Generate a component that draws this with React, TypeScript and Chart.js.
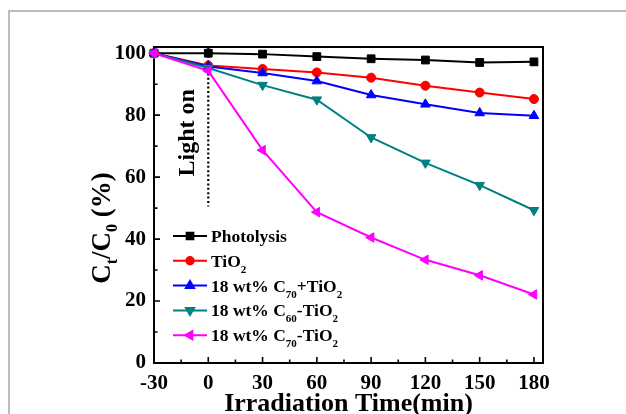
import { useEffect, useRef } from 'react';
import { Chart, registerables } from 'chart.js';
import { drawPoint } from 'chart.js/helpers';

Chart.register(...registerables);

// Irradiation times (min); -30 is the dark adsorption step before the lamp is switched on
const times = [-30, 0, 30, 60, 90, 120, 150, 180];

// Ct/C0 (%) for each sample
const photolysis = [100, 100, 99.7, 98.9, 98.2, 97.8, 97.0, 97.2];
const tio2 = [100, 96.0, 94.9, 93.8, 92.1, 89.5, 87.3, 85.2];
const c70PlusTio2 = [100, 95.7, 93.6, 91.0, 86.5, 83.5, 80.7, 79.8];
const c60Tio2 = [100, 95.2, 89.7, 85.0, 72.8, 64.6, 57.4, 49.3];
const c70Tio2 = [100, 94.3, 68.7, 48.7, 40.5, 33.3, 28.3, 22.1];

// Axis ticks
const xTickValues = [-30, 0, 30, 60, 90, 120, 150, 180];
const xMinorValues = [-15, 15, 45, 75, 105, 135, 165];
const yTickValues = [0, 20, 40, 60, 80, 100];
const yMinorValues = [10, 30, 50, 70, 90];

// "Light on" marker
const lightOnTime = 0;
const lightOnLow = 50.5;
const lightOnText = 'Light on';

const xTitle = 'Irradiation Time(min)';

type Seg = { t: string; sub?: boolean };

const FONT = "'Liberation Serif', 'Times New Roman', serif";

const series = [
  { label: [{ t: 'Photolysis' }] as Seg[], data: photolysis, color: '#000000', style: 'rect', radius: 5.5, rotation: 0 },
  { label: [{ t: 'TiO' }, { t: '2', sub: true }] as Seg[], data: tio2, color: '#ff0000', style: 'circle', radius: 4.5, rotation: 0 },
  { label: [{ t: '18 wt% C' }, { t: '70', sub: true }, { t: '+TiO' }, { t: '2', sub: true }] as Seg[], data: c70PlusTio2, color: '#0000ff', style: 'triangle', radius: 5.5, rotation: 0 },
  { label: [{ t: '18 wt% C' }, { t: '60', sub: true }, { t: '-TiO' }, { t: '2', sub: true }] as Seg[], data: c60Tio2, color: '#008080', style: 'triangle', radius: 5.5, rotation: 180 },
  { label: [{ t: '18 wt% C' }, { t: '70', sub: true }, { t: '-TiO' }, { t: '2', sub: true }] as Seg[], data: c70Tio2, color: '#ff00ff', style: 'triangle', radius: 5.5, rotation: 270 },
];

function drawSegs(ctx: CanvasRenderingContext2D, segs: Seg[], x: number, y: number, size: number, subSize: number, subDrop: number) {
  let cx = x;
  for (const s of segs) {
    ctx.font = `bold ${s.sub ? subSize : size}px ${FONT}`;
    ctx.fillText(s.t, cx, s.sub ? y + subDrop : y);
    cx += ctx.measureText(s.t).width;
  }
  return cx - x;
}

function segsWidth(ctx: CanvasRenderingContext2D, segs: Seg[], size: number, subSize: number) {
  let w = 0;
  for (const s of segs) {
    ctx.font = `bold ${s.sub ? subSize : size}px ${FONT}`;
    w += ctx.measureText(s.t).width;
  }
  return w;
}

const decorPlugin = {
  id: 'decor',
  beforeDraw(chart: any) {
    const { ctx, width, height } = chart;
    ctx.save();
    ctx.fillStyle = '#ffffff';
    ctx.fillRect(0, 0, width, height);
    ctx.strokeStyle = '#bdbdbd';
    ctx.lineWidth = 2;
    ctx.strokeRect(9, 11, width + 20, height + 20);
    ctx.restore();
  },
  beforeDatasetsDraw(chart: any) {
    const { ctx, chartArea: a } = chart;
    const xs = chart.scales.x;
    const ys = chart.scales.y;
    ctx.save();
    ctx.strokeStyle = '#000';
    ctx.lineWidth = 2;
    ctx.strokeRect(a.left, a.top, a.right - a.left, a.bottom - a.top);

    // inward tick marks on bottom and left axes
    ctx.lineWidth = 1.6;
    ctx.beginPath();
    for (const v of xTickValues) {
      const px = xs.getPixelForValue(v);
      ctx.moveTo(px, a.bottom);
      ctx.lineTo(px, a.bottom - 6);
    }
    for (const v of xMinorValues) {
      const px = xs.getPixelForValue(v);
      ctx.moveTo(px, a.bottom);
      ctx.lineTo(px, a.bottom - 3.5);
    }
    for (const v of yTickValues) {
      const py = ys.getPixelForValue(v);
      ctx.moveTo(a.left, py);
      ctx.lineTo(a.left + 6, py);
    }
    for (const v of yMinorValues) {
      const py = ys.getPixelForValue(v);
      ctx.moveTo(a.left, py);
      ctx.lineTo(a.left + 3.5, py);
    }
    ctx.stroke();

    // dotted "Light on" line
    const lx = xs.getPixelForValue(lightOnTime);
    ctx.setLineDash([2, 2.4]);
    ctx.lineWidth = 2.2;
    ctx.beginPath();
    ctx.moveTo(lx, a.top);
    ctx.lineTo(lx, ys.getPixelForValue(lightOnLow));
    ctx.stroke();
    ctx.setLineDash([]);

    ctx.translate(lx - 20, (a.top + ys.getPixelForValue(lightOnLow)) / 2 + 6);
    ctx.rotate(-Math.PI / 2);
    ctx.fillStyle = '#000';
    ctx.font = `bold 24px ${FONT}`;
    ctx.textAlign = 'center';
    ctx.textBaseline = 'middle';
    ctx.fillText(lightOnText, 0, 0);
    ctx.restore();
  },
  afterDraw(chart: any) {
    const { ctx, chartArea: a } = chart;
    ctx.save();
    ctx.fillStyle = '#000';
    ctx.textBaseline = 'alphabetic';
    ctx.textAlign = 'left';

    // legend
    const rowY0 = 236;
    const rowGap = 24.8;
    const lineX0 = a.left + 19;
    const lineX1 = a.left + 53;
    series.forEach((s, i) => {
      const y = rowY0 + i * rowGap;
      ctx.strokeStyle = s.color;
      ctx.lineWidth = 2;
      ctx.beginPath();
      ctx.moveTo(lineX0, y);
      ctx.lineTo(lineX1, y);
      ctx.stroke();
      ctx.fillStyle = s.color;
      drawPoint(ctx, { pointStyle: s.style, radius: s.radius - 0.8, rotation: s.rotation, borderWidth: 1 } as any, (lineX0 + lineX1) / 2, y);
      ctx.fillStyle = '#000';
      drawSegs(ctx, s.label, lineX1 + 4, y + 6, 17.5, 11, 6);
    });

    // x title
    ctx.font = `bold 26px ${FONT}`;
    ctx.textAlign = 'center';
    ctx.fillText(xTitle, (a.left + a.right) / 2, 411);

    // y title with subscripts
    const ySegs: Seg[] = [{ t: 'C' }, { t: 't', sub: true }, { t: '/C' }, { t: '0', sub: true }, { t: ' (%)' }];
    ctx.textAlign = 'left';
    const w = segsWidth(ctx, ySegs, 27, 16);
    ctx.translate(110, 228);
    ctx.rotate(-Math.PI / 2);
    drawSegs(ctx, ySegs, -w / 2, 0, 27, 16, 7);
    ctx.restore();
  },
};

export default function App() {
  const ref = useRef<HTMLCanvasElement | null>(null);

  useEffect(() => {
    if (!ref.current) return;
    const chart = new Chart(ref.current, {
      type: 'line',
      data: {
        datasets: series.map((s, i) => ({
          label: s.label.map((g) => g.t).join(''),
          data: times.map((t, k) => ({ x: t, y: s.data[k] })),
          borderColor: s.color,
          backgroundColor: s.color,
          borderWidth: 2,
          pointStyle: s.style as any,
          pointRadius: s.radius,
          pointRotation: s.rotation,
          pointBorderWidth: 1,
          pointBorderColor: s.color,
          pointBackgroundColor: s.color,
          tension: 0,
          clip: false as any,
          order: series.length - i,
        })),
      },
      options: {
        animation: false,
        responsive: true,
        maintainAspectRatio: false,
        layout: { padding: { left: 0, top: 47, right: 83, bottom: 0 } },
        plugins: { legend: { display: false }, tooltip: { enabled: false } },
        scales: {
          x: {
            type: 'linear',
            min: -30,
            max: 185,
            grid: { display: false, drawTicks: false },
            border: { display: false },
            afterBuildTicks: (sc: any) => {
              sc.ticks = xTickValues.map((v) => ({ value: v }));
            },
            afterFit: (sc: any) => {
              sc.height = 414 - 363;
            },
            ticks: {
              padding: 8,
              color: '#000',
              maxRotation: 0,
              autoSkip: false,
              font: { family: FONT, size: 21, weight: 'bold' },
            },
          },
          y: {
            type: 'linear',
            min: 0,
            max: 102,
            grid: { display: false, drawTicks: false },
            border: { display: false },
            afterBuildTicks: (sc: any) => {
              sc.ticks = yTickValues.map((v) => ({ value: v }));
            },
            afterFit: (sc: any) => {
              sc.width = 154;
            },
            ticks: {
              padding: 8,
              color: '#000',
              autoSkip: false,
              font: { family: FONT, size: 21, weight: 'bold' },
            },
          },
        },
      },
      plugins: [decorPlugin],
    });
    return () => chart.destroy();
  }, []);

  return (
    <div style={{ position: 'absolute', left: 0, top: 0, width: 626, height: 414 }}>
      <canvas ref={ref} />
    </div>
  );
}
